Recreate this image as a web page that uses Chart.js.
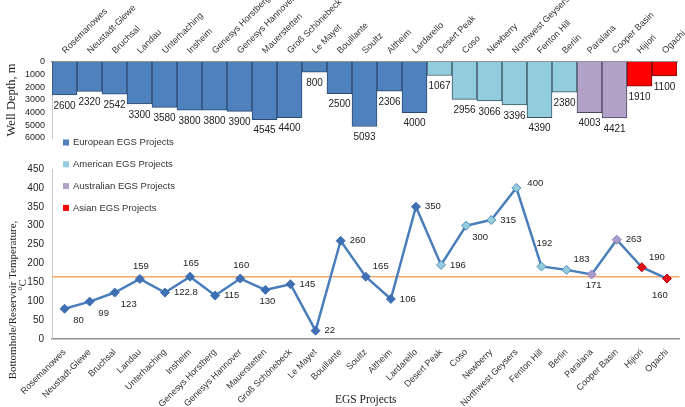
<!DOCTYPE html>
<html>
<head>
<meta charset="utf-8">
<script src="https://cdn.jsdelivr.net/npm/chart.js@4.4.0/dist/chart.umd.min.js"></script>
<style>
  body { margin: 0; background: #fff; }
  #wrap { position: relative; width: 685px; height: 407px; overflow: hidden; }
  canvas { position: absolute; left: 0; }
  #depth-chart { top: 0; }
  #temp-chart { top: 130px; }
</style>
</head>
<body>
<div id="wrap">
  <canvas id="depth-chart" width="685" height="150"></canvas>
  <canvas id="temp-chart" width="685" height="277"></canvas>
</div>
<script>
const projects = ['Rosemanowes', 'Neustadt-Glewe', 'Bruchsal', 'Landau', 'Unterhaching', 'Insheim',
    'Genesys Horstberg', 'Genesys Hannover', 'Mauerstetten', 'Groß Schönebeck', 'Le Mayet', 'Bouillante',
    'Soultz', 'Altheim', 'Lardarello', 'Desert Peak', 'Coso', 'Newberry', 'Northwest Geysers',
    'Fenton Hill', 'Berlin', 'Paralana', 'Cooper Basin', 'Hijiori', 'Ogachi'];
const wellDepth = [2600, 2320, 2542, 3300, 3580, 3800, 3800, 3900, 4545, 4400, 800, 2500,
    5093, 2306, 4000, 1067, 2956, 3066, 3396, 4390, 2380, 4003, 4421, 1910, 1100];
const temperature = [80, 99, 123, 159, 122.8, 165, 115, 160, 130, 145, 22, 260,
    165, 106, 350, 196, 300, 315, 400, 192, 183, 171, 263, 190, 160];
const regions = ['European', 'American', 'Australian', 'Asian'];
const projectRegion = [
    'European', 'European', 'European', 'European', 'European', 'European', 'European', 'European',
    'European', 'European', 'European', 'European', 'European', 'European', 'European',
    'American', 'American', 'American', 'American', 'American', 'American',
    'Australian', 'Australian', 'Asian', 'Asian'];
const depthMax = 6000;
const depthStep = 1000;
const tempMax = 450;
const tempStep = 50;
const refTemp = 165;

const barFill = { European: '#4f81bd', American: '#93cddd', Australian: '#b3a2c7', Asian: '#ff0000' };
const barEdge = { European: '#2c4a72', American: '#35535f', Australian: '#4d4560', Asian: '#6b1010' };
const pointFill = { European: '#3f6fb3', American: '#93cddd', Australian: '#a99ccb', Asian: '#e0141b' };
const pointEdge = { European: '#3f6fb3', American: '#4f8fb8', Australian: '#8c7fb5', Asian: '#c00000' };

// where each temperature label sits relative to its point
const labelPlace = ['belowRight', 'belowRight', 'belowRight', 'above', 'right', 'above', 'right', 'above',
    'below', 'right', 'right', 'right', 'aboveRight', 'right', 'right', 'right', 'belowRight', 'right',
    'rightUp', 'aboveFar', 'aboveRight', 'below', 'right', 'aboveRight', 'belowLeft'];
const placeOffset = {
    right: [9, 0, 'left'], rightUp: [11, -5, 'left'],
    above: [1, -13, 'center'], aboveFar: [3, -23, 'center'],
    below: [2, 11, 'center'], belowLeft: [-7, 17, 'center'],
    aboveRight: [15, -10, 'center'], belowRight: [14, 12, 'center']
};

const sans = 'Liberation Sans';
const serif = 'Liberation Serif';

function fixBox(width, height) {
    return (scale) => {
        if (width !== null) scale.width = width;
        if (height !== null) scale.height = height;
        scale.paddingLeft = 0;
        scale.paddingRight = 0;
        scale.paddingTop = 0;
        scale.paddingBottom = 0;
    };
}

const barValues = {
    id: 'barValues',
    afterDatasetsDraw(chart) {
        const ctx = chart.ctx;
        ctx.save();
        ctx.font = '10px "' + sans + '"';
        ctx.fillStyle = '#222';
        ctx.textAlign = 'center';
        ctx.textBaseline = 'top';
        chart.getDatasetMeta(0).data.forEach((bar, i) => {
            ctx.fillText(wellDepth[i], bar.x, bar.y + 6);
        });
        ctx.restore();
    }
};

const refLine = {
    id: 'refLine',
    beforeDatasetsDraw(chart) {
        const { ctx, chartArea, scales } = chart;
        const y = scales.y.getPixelForValue(refTemp);
        ctx.save();
        ctx.strokeStyle = '#f5a86a';
        ctx.lineWidth = 1.5;
        ctx.beginPath();
        ctx.moveTo(chartArea.left, y);
        ctx.lineTo(chartArea.right, y);
        ctx.stroke();
        ctx.restore();
    }
};

const pointLabels = {
    id: 'pointLabels',
    afterDatasetsDraw(chart) {
        const ctx = chart.ctx;
        ctx.save();
        ctx.font = '9.5px "' + sans + '"';
        ctx.fillStyle = '#222';
        ctx.textBaseline = 'middle';
        chart.getDatasetMeta(0).data.forEach((pt, i) => {
            const [dx, dy, align] = placeOffset[labelPlace[i]];
            ctx.textAlign = align;
            ctx.fillText(String(temperature[i]), pt.x + dx, pt.y + dy);
        });
        ctx.restore();
    }
};

const regionLegend = {
    id: 'regionLegend',
    afterDraw(chart) {
        const ctx = chart.ctx;
        ctx.save();
        ctx.font = '9.5px "' + sans + '"';
        ctx.textBaseline = 'middle';
        ctx.textAlign = 'left';
        regions.forEach((r, i) => {
            const y = 12.5 + i * 21.8;
            ctx.fillStyle = barFill[r];
            ctx.fillRect(63, y - 3, 6, 6);
            ctx.fillStyle = '#333';
            ctx.fillText(r + ' EGS Projects', 73, y);
        });
        ctx.restore();
    }
};

const tempTitle = {
    id: 'tempTitle',
    afterDraw(chart) {
        const ctx = chart.ctx;
        ctx.save();
        ctx.font = '11px "' + serif + '"';
        ctx.fillStyle = '#222';
        ctx.textAlign = 'center';
        ctx.textBaseline = 'middle';
        ctx.translate(13, 170);
        ctx.rotate(-Math.PI / 2);
        ctx.fillText('Bottomhole/Reservoir Temperature,', 0, 0);
        ctx.restore();
        ctx.save();
        ctx.font = '11px "' + serif + '"';
        ctx.fillStyle = '#222';
        ctx.textAlign = 'center';
        ctx.textBaseline = 'middle';
        ctx.translate(23, 155);
        ctx.rotate(-Math.PI / 2);
        ctx.fillText('°C', 0, 0);
        ctx.restore();
    }
};

new Chart(document.getElementById('depth-chart'), {
    type: 'bar',
    data: {
        labels: projects,
        datasets: [{
            label: 'Well Depth',
            data: wellDepth,
            backgroundColor: projectRegion.map((r) => barFill[r]),
            borderColor: projectRegion.map((r) => barEdge[r]),
            borderWidth: 1,
            barPercentage: 1,
            categoryPercentage: 1,
        }]
    },
    options: {
        responsive: false,
        animation: false,
        layout: { padding: { left: 0, right: 8, top: 0, bottom: 12 } },
        plugins: { legend: { display: false }, tooltip: { enabled: false } },
        scales: {
            x: {
                position: 'top',
                grid: { display: false, drawTicks: false },
                border: { color: '#909090', width: 1.5 },
                ticks: {
                    autoSkip: false, minRotation: 45, maxRotation: 45, padding: 6, labelOffset: 7,
                    color: '#333', font: { family: sans, size: 9 }
                },
                afterFit: fixBox(null, 62)
            },
            y: {
                reverse: true,
                min: 0,
                max: depthMax,
                grid: { display: false, drawTicks: false },
                border: { color: '#c8c8c8' },
                ticks: {
                    stepSize: depthStep, autoSkip: false, color: '#222', padding: 7,
                    font: { family: sans, size: 9 }, callback: (v) => String(v)
                },
                title: {
                    display: true, text: 'Well Depth, m', color: '#222', padding: { top: 4, bottom: 0 },
                    font: { family: serif, size: 12.5 }
                },
                afterFit: fixBox(52, null)
            }
        }
    },
    plugins: [barValues]
});

new Chart(document.getElementById('temp-chart'), {
    type: 'line',
    data: {
        labels: projects,
        datasets: [{
            label: 'Temperature',
            data: temperature,
            borderColor: '#4a7ebb',
            borderWidth: 2.5,
            tension: 0,
            pointStyle: 'rectRot',
            pointRadius: 4.5,
            pointBackgroundColor: projectRegion.map((r) => pointFill[r]),
            pointBorderColor: projectRegion.map((r) => pointEdge[r]),
            pointBorderWidth: 1,
        }]
    },
    options: {
        responsive: false,
        animation: false,
        layout: { padding: { left: 0, right: 3, top: 39, bottom: 0 } },
        plugins: { legend: { display: false }, tooltip: { enabled: false } },
        scales: {
            x: {
                offset: true,
                grid: { display: false, drawTicks: false },
                border: { color: '#909090', width: 1.5 },
                ticks: {
                    autoSkip: false, minRotation: 45, maxRotation: 45, padding: 8,
                    color: '#333', font: { family: sans, size: 9 }
                },
                title: {
                    display: true, text: 'EGS Projects', color: '#222', padding: { top: 0, bottom: 0 },
                    font: { family: serif, size: 11.5 }
                },
                afterFit: fixBox(null, 68)
            },
            y: {
                min: 0,
                max: tempMax,
                grid: { display: false, drawTicks: false },
                border: { color: '#c8c8c8' },
                ticks: { stepSize: tempStep, autoSkip: false, color: '#222', padding: 8, font: { family: sans, size: 10 } },
                afterFit: fixBox(52, null)
            }
        }
    },
    plugins: [refLine, pointLabels, regionLegend, tempTitle]
});
</script>
</body>
</html>
